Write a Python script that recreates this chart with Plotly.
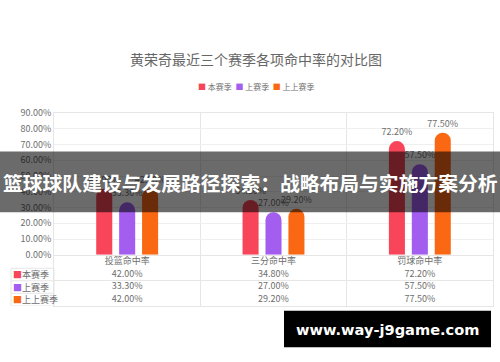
import plotly.graph_objects as go

categories = ["投篮命中率", "三分命中率", "罚球命中率"]
series_names = ["本赛季", "上赛季", "上上赛季"]
this_season = [42.00, 34.80, 72.20]
last_season = [33.30, 27.00, 57.50]
season_before = [42.00, 29.20, 77.50]
colors = ["#f8455a", "#a35ef0", "#fb6814"]
title_text = "黄荣奇最近三个赛季各项命中率的对比图"
banner_text = "篮球球队建设与发展路径探索：战略布局与实施方案分析"
watermark_text = "www.way-j9game.com"

W, H = 500, 362
def py(px):
    return 1 - px / H

FONT = "Noto Sans CJK SC, Noto Sans, sans-serif"
GRAY = "#6e6e6e"
GRID = "#e6e6e6"
HEADER_KEY = "header"

all_series = [this_season, last_season, season_before]

fig = go.Figure()
for name, vals, col in zip(series_names, all_series, colors):
    fig.add_trace(go.Bar(
        x=categories, y=vals, name=name,
        marker=dict(color=col, cornerradius=8, line=dict(width=0)),
        text=[f"{v:.2f}%" for v in vals], textposition="outside",
        constraintext="none",
        textfont=dict(size=9, color=GRAY, family=FONT),
        cliponaxis=False, showlegend=False, hoverinfo="skip",
    ))

# ---- data table drawn on a second (categorical) axis pair ----
tx, ty, tt = [], [], []
for name, vals in zip(series_names, all_series):
    for c, v in zip(categories, vals):
        tx.append(c); ty.append(name); tt.append(f"{v:.2f}%")
for c in categories:
    tx.append(c); ty.append(HEADER_KEY); tt.append(c)
fig.add_trace(go.Scatter(
    x=tx, y=ty, text=tt, mode="text", xaxis="x2", yaxis="y2",
    textfont=dict(size=9, color=GRAY, family=FONT),
    showlegend=False, hoverinfo="skip",
))

row_order = list(reversed(series_names)) + [HEADER_KEY]

legend_txt = "  ".join(f"<span style='color:{c}'>■</span> {n}" for n, c in zip(series_names, colors))

annotations = [
    dict(text=legend_txt, xref="paper", yref="paper", x=256 / W, y=py(82),
         xanchor="center", yanchor="middle", showarrow=False,
         font=dict(size=8, color=GRAY, family=FONT)),
]
for n, c in zip(series_names, colors):
    annotations.append(dict(
        text=f"<span style='color:{c}'>■</span>{n}", xref="paper", yref="y2",
        x=11 / W, y=n, xanchor="left", yanchor="middle", showarrow=False,
        font=dict(size=9, color=GRAY, family=FONT)))
annotations += [
    dict(text=f"<b>{banner_text}</b>", xref="paper", yref="paper", x=0.5, y=py(182),
         xanchor="center", yanchor="middle", showarrow=False,
         font=dict(size=19.8, color="white", family=FONT)),
    dict(text=f"<b>{watermark_text}</b>", xref="paper", yref="paper", x=387.5 / W, y=py(334),
         xanchor="center", yanchor="middle", showarrow=False,
         font=dict(size=14.6, color="white", family="DejaVu Sans, sans-serif")),
]

# borders of the row-label column (left of the table grid)
label_col_shapes = [
    dict(type="rect", xref="paper", yref="y2", x0=11 / W, x1=54 / W, y0=-0.5, y1=2.5,
         line=dict(color=GRID, width=1), layer="below"),
    dict(type="line", xref="paper", yref="y2", x0=11 / W, x1=54 / W, y0=0.5, y1=0.5,
         line=dict(color=GRID, width=1), layer="below"),
    dict(type="line", xref="paper", yref="y2", x0=11 / W, x1=54 / W, y0=1.5, y1=1.5,
         line=dict(color=GRID, width=1), layer="below"),
]

fig.update_layout(
    width=W, height=H,
    margin=dict(l=0, r=0, t=0, b=0),
    paper_bgcolor="white", plot_bgcolor="white",
    barmode="group", bargap=0.53, bargroupgap=0.3,
    title=dict(text=title_text, x=0.512, xanchor="center", y=py(60), yanchor="middle",
               font=dict(size=14, color="#666666", family=FONT)),
    xaxis=dict(domain=[54 / W, 493 / W], showticklabels=False, ticks="",
               tickson="boundaries", showgrid=True, gridcolor=GRID,
               showline=True, linecolor=GRID, mirror=True, zeroline=False,
               fixedrange=True),
    yaxis=dict(domain=[py(257), py(110)], range=[0, 90], dtick=10,
               tickformat=".2f", ticksuffix="%", showgrid=True, gridcolor="#efefef",
               showline=True, linecolor=GRID, mirror=True, zeroline=False,
               tickfont=dict(size=9, color=GRAY, family=FONT), fixedrange=True),
    xaxis2=dict(domain=[54 / W, 493 / W], anchor="y2", matches="x",
                showticklabels=False, ticks="", tickson="boundaries",
                showgrid=True, gridcolor=GRID, showline=True, linecolor=GRID,
                mirror=True, zeroline=False, fixedrange=True),
    yaxis2=dict(domain=[py(310), py(258)], anchor="x2", type="category",
                categoryorder="array", categoryarray=row_order, range=[-0.5, 3.5],
                showticklabels=False, ticks="", tickson="boundaries",
                showgrid=True, gridcolor=GRID, showline=True, linecolor=GRID,
                mirror=True, zeroline=False, fixedrange=True),
    shapes=label_col_shapes + [
        dict(type="rect", xref="paper", yref="paper", x0=0, x1=1, y0=py(213), y1=py(150),
             fillcolor="rgba(0,0,0,0.58)", line=dict(width=0), layer="above"),
        dict(type="rect", xref="paper", yref="paper", x0=284 / W, x1=491 / W, y0=py(353), y1=py(315),
             fillcolor="black", line=dict(width=0), layer="above"),
    ],
    annotations=annotations,
)

fig.write_html(
    "out.html",
    config={"displayModeBar": False},
    post_script="document.body.style.margin='0';document.body.style.overflow='hidden';",
)
